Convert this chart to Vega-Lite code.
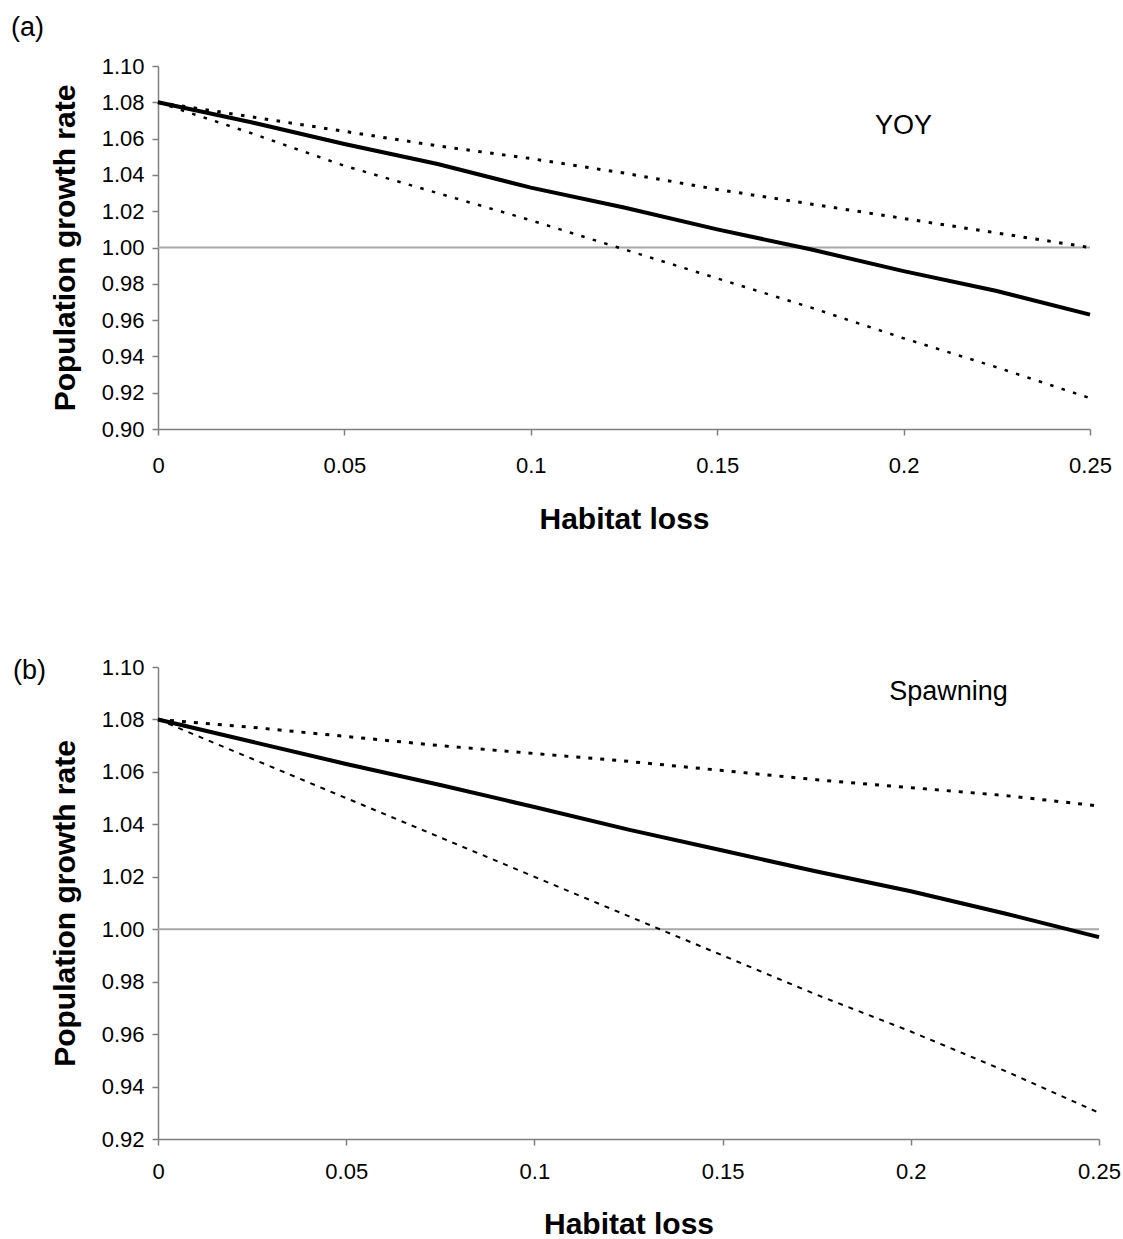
{
  "$schema": "https://vega.github.io/schema/vega-lite/v6.json",
  "background": "white",
  "padding": {"left": 11, "top": 14, "right": 0, "bottom": 0},
  "spacing": 122,
  "config": {
    "font": "Liberation Sans",
    "view": {"stroke": null},
    "title": {"font": "Liberation Sans", "fontSize": 27, "fontWeight": "normal", "color": "black", "anchor": "start", "frame": "group"},
    "axis": {
      "grid": false,
      "domainColor": "#7f7f7f",
      "domainWidth": 1.5,
      "tickColor": "#7f7f7f",
      "tickWidth": 1.5,
      "tickSize": 6,
      "labelFlush": false,
      "labelFont": "Liberation Sans",
      "labelFontSize": 22,
      "labelColor": "black",
      "titleFont": "Liberation Sans",
      "titleFontSize": 30,
      "titleFontWeight": "bold",
      "titleColor": "black"
    }
  },
  "datasets": {
    "a": [
      {"loss": 0, "rate": 1.080, "series": "mid"},
      {"loss": 0.025, "rate": 1.069, "series": "mid"},
      {"loss": 0.05, "rate": 1.057, "series": "mid"},
      {"loss": 0.075, "rate": 1.046, "series": "mid"},
      {"loss": 0.1, "rate": 1.033, "series": "mid"},
      {"loss": 0.125, "rate": 1.022, "series": "mid"},
      {"loss": 0.15, "rate": 1.010, "series": "mid"},
      {"loss": 0.175, "rate": 0.999, "series": "mid"},
      {"loss": 0.2, "rate": 0.987, "series": "mid"},
      {"loss": 0.225, "rate": 0.976, "series": "mid"},
      {"loss": 0.25, "rate": 0.963, "series": "mid"},
      {"loss": 0, "rate": 1.080, "series": "high"},
      {"loss": 0.025, "rate": 1.072, "series": "high"},
      {"loss": 0.05, "rate": 1.064, "series": "high"},
      {"loss": 0.075, "rate": 1.056, "series": "high"},
      {"loss": 0.1, "rate": 1.049, "series": "high"},
      {"loss": 0.125, "rate": 1.041, "series": "high"},
      {"loss": 0.15, "rate": 1.032, "series": "high"},
      {"loss": 0.175, "rate": 1.024, "series": "high"},
      {"loss": 0.2, "rate": 1.016, "series": "high"},
      {"loss": 0.225, "rate": 1.008, "series": "high"},
      {"loss": 0.25, "rate": 1.000, "series": "high"},
      {"loss": 0, "rate": 1.080, "series": "low"},
      {"loss": 0.025, "rate": 1.063, "series": "low"},
      {"loss": 0.05, "rate": 1.045, "series": "low"},
      {"loss": 0.075, "rate": 1.030, "series": "low"},
      {"loss": 0.1, "rate": 1.015, "series": "low"},
      {"loss": 0.125, "rate": 0.999, "series": "low"},
      {"loss": 0.15, "rate": 0.983, "series": "low"},
      {"loss": 0.175, "rate": 0.967, "series": "low"},
      {"loss": 0.2, "rate": 0.950, "series": "low"},
      {"loss": 0.225, "rate": 0.934, "series": "low"},
      {"loss": 0.25, "rate": 0.917, "series": "low"}
    ],
    "b": [
      {"loss": 0, "rate": 1.080, "series": "mid"},
      {"loss": 0.025, "rate": 1.0715, "series": "mid"},
      {"loss": 0.05, "rate": 1.063, "series": "mid"},
      {"loss": 0.075, "rate": 1.055, "series": "mid"},
      {"loss": 0.1, "rate": 1.0466, "series": "mid"},
      {"loss": 0.125, "rate": 1.038, "series": "mid"},
      {"loss": 0.15, "rate": 1.030, "series": "mid"},
      {"loss": 0.175, "rate": 1.022, "series": "mid"},
      {"loss": 0.2, "rate": 1.0145, "series": "mid"},
      {"loss": 0.225, "rate": 1.006, "series": "mid"},
      {"loss": 0.25, "rate": 0.997, "series": "mid"},
      {"loss": 0, "rate": 1.080, "series": "high"},
      {"loss": 0.025, "rate": 1.077, "series": "high"},
      {"loss": 0.05, "rate": 1.0735, "series": "high"},
      {"loss": 0.075, "rate": 1.070, "series": "high"},
      {"loss": 0.1, "rate": 1.067, "series": "high"},
      {"loss": 0.125, "rate": 1.064, "series": "high"},
      {"loss": 0.15, "rate": 1.0605, "series": "high"},
      {"loss": 0.175, "rate": 1.057, "series": "high"},
      {"loss": 0.2, "rate": 1.054, "series": "high"},
      {"loss": 0.225, "rate": 1.051, "series": "high"},
      {"loss": 0.25, "rate": 1.047, "series": "high"},
      {"loss": 0, "rate": 1.080, "series": "low"},
      {"loss": 0.025, "rate": 1.065, "series": "low"},
      {"loss": 0.05, "rate": 1.050, "series": "low"},
      {"loss": 0.075, "rate": 1.035, "series": "low"},
      {"loss": 0.1, "rate": 1.020, "series": "low"},
      {"loss": 0.125, "rate": 1.005, "series": "low"},
      {"loss": 0.15, "rate": 0.990, "series": "low"},
      {"loss": 0.175, "rate": 0.975, "series": "low"},
      {"loss": 0.2, "rate": 0.961, "series": "low"},
      {"loss": 0.225, "rate": 0.946, "series": "low"},
      {"loss": 0.25, "rate": 0.930, "series": "low"}
    ],
    "refline": [{"rate": 1.0}],
    "labA": [{"loss": 0.2, "rate": 1.067, "label": "YOY"}],
    "labB": [{"loss": 0.21, "rate": 1.0905, "label": "Spawning"}]
  },
  "vconcat": [
    {
      "title": {"text": "(a)", "dx": -147, "offset": 13},
      "width": 932,
      "height": 363,
      "encoding": {
        "x": {"field": "loss", "type": "quantitative", "scale": {"domain": [0, 0.25], "nice": false}, "axis": {"title": "Habitat loss", "values": [0, 0.05, 0.1, 0.15, 0.2, 0.25], "format": "~g", "labelPadding": 20, "titlePadding": 28}},
        "y": {"field": "rate", "type": "quantitative", "scale": {"domain": [0.9, 1.1], "nice": false, "zero": false}, "axis": {"title": "Population growth rate", "values": [0.9, 0.92, 0.94, 0.96, 0.98, 1.0, 1.02, 1.04, 1.06, 1.08, 1.1], "format": ".2f", "labelPadding": 8, "titlePadding": 21}}
      },
      "layer": [
        {"data": {"name": "refline"}, "mark": {"type": "rule", "color": "#a6a6a6", "strokeWidth": 2}, "encoding": {"x": null, "y": {"field": "rate", "type": "quantitative"}}},
        {"data": {"name": "a"}, "transform": [{"filter": "datum.series === 'high'"}], "mark": {"type": "line", "color": "black", "strokeWidth": 3, "strokeDash": [3.5, 8.5]}},
        {"data": {"name": "a"}, "transform": [{"filter": "datum.series === 'low'"}], "mark": {"type": "line", "color": "black", "strokeWidth": 2.5, "strokeDash": [3.5, 8.5]}},
        {"data": {"name": "a"}, "transform": [{"filter": "datum.series === 'mid'"}], "mark": {"type": "line", "color": "black", "strokeWidth": 4}},
        {"data": {"name": "labA"}, "mark": {"type": "text", "fontSize": 27, "font": "Liberation Sans", "color": "black"}, "encoding": {"text": {"field": "label"}}}
      ]
    },
    {
      "title": {"text": "(b)", "dx": -145, "offset": -29},
      "width": 941,
      "height": 472,
      "encoding": {
        "x": {"field": "loss", "type": "quantitative", "scale": {"domain": [0, 0.25], "nice": false}, "axis": {"title": "Habitat loss", "values": [0, 0.05, 0.1, 0.15, 0.2, 0.25], "format": "~g", "labelPadding": 16, "titlePadding": 27}},
        "y": {"field": "rate", "type": "quantitative", "scale": {"domain": [0.92, 1.1], "nice": false, "zero": false}, "axis": {"title": "Population growth rate", "values": [0.92, 0.94, 0.96, 0.98, 1.0, 1.02, 1.04, 1.06, 1.08, 1.1], "format": ".2f", "labelPadding": 8, "titlePadding": 21}}
      },
      "layer": [
        {"data": {"name": "refline"}, "mark": {"type": "rule", "color": "#a6a6a6", "strokeWidth": 2}, "encoding": {"x": null, "y": {"field": "rate", "type": "quantitative"}}},
        {"data": {"name": "b"}, "transform": [{"filter": "datum.series === 'high'"}], "mark": {"type": "line", "color": "black", "strokeWidth": 3, "strokeDash": [4, 8]}},
        {"data": {"name": "b"}, "transform": [{"filter": "datum.series === 'low'"}], "mark": {"type": "line", "color": "black", "strokeWidth": 2, "strokeDash": [5, 6]}},
        {"data": {"name": "b"}, "transform": [{"filter": "datum.series === 'mid'"}], "mark": {"type": "line", "color": "black", "strokeWidth": 4}},
        {"data": {"name": "labB"}, "mark": {"type": "text", "fontSize": 27, "font": "Liberation Sans", "color": "black"}, "encoding": {"text": {"field": "label"}}}
      ]
    }
  ]
}
